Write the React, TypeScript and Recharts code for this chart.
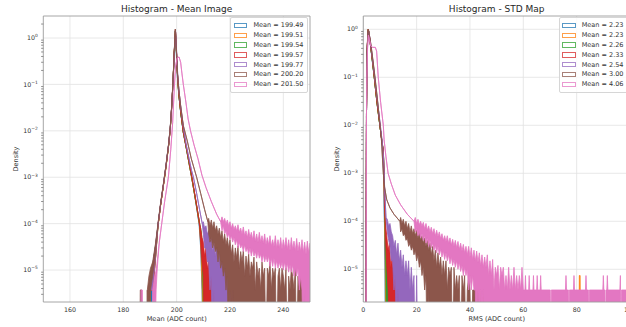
import React from "react";
import {
  Area,
  CartesianGrid,
  ComposedChart,
  Legend,
  ReferenceArea,
  XAxis,
  YAxis,
} from "recharts";

const FONT = "'DejaVu Sans', sans-serif";
const TEXT = "#333";
const COLORS = ["#1f77b4", "#ff7f0e", "#2ca02c", "#d62728", "#9467bd", "#8c564b", "#e377c2"];

// empty bins are pushed below the log axis so the clip path hides them
const EMPTY_BIN = 1e-7;

const MEAN_LABELS = [
  "Mean = 199.49",
  "Mean = 199.51",
  "Mean = 199.54",
  "Mean = 199.57",
  "Mean = 199.77",
  "Mean = 200.20",
  "Mean = 201.50",
];
const RMS_LABELS = [
  "Mean = 2.23",
  "Mean = 2.23",
  "Mean = 2.26",
  "Mean = 2.33",
  "Mean = 2.54",
  "Mean = 3.00",
  "Mean = 4.06",
];

const MEAN_TICKS = [160, 180, 200, 220, 240];
const RMS_TICKS = [0, 20, 40, 60, 80, 100];
const DECADES = [1e-5, 1e-4, 1e-3, 1e-2, 1e-1, 1];
const MINOR_STEPS = [2, 3, 4, 5, 6, 7, 8, 9];

const MEAN_X_DOMAIN = [150, 250];
const MEAN_Y_DOMAIN = [2.05e-6, 2.98];
const RMS_X_DOMAIN = [0, 100];
const RMS_Y_DOMAIN = [2.08e-6, 1.89];

// bins: [x, density] or [x, low, high] where the counts jitter between low and high
type Bin = number[];

const MEAN_BLUE: Bin[] = [
  [189.6, 0], [189.8, 3.7e-6], [190.2, 3.7e-6], [190.5, 0, 7.4e-6], [191.0, 3.7e-6, 1.2e-5],
  [192.0, 1.6e-5, 3e-5], [193.0, 9e-5], [194.0, 2.6e-4], [195.0, 6.5e-4], [196.0, 1.7e-3],
  [197.0, 5e-3], [197.6, 1.1e-2], [198.1, 3e-2], [198.6, 0.1], [199.1, 0.5], [199.5, 1.4],
  [199.9, 0.45], [200.3, 0.14], [200.8, 0.06], [201.5, 0.025], [202.5, 9e-3], [203.5, 4.5e-3],
  [204.5, 2.2e-3], [205.6, 1e-3], [206.5, 5e-4], [207.5, 2.2e-4], [208.4, 1e-4],
  [209.0, 3e-5, 6e-5], [209.5, 3.7e-6, 2.5e-5], [210.0, 0, 1.1e-5], [210.3, 0],
];

const MEAN_ORANGE: Bin[] = [
  [189.9, 0], [190.1, 3.7e-6], [190.6, 3.7e-6, 7.4e-6], [191.1, 3.7e-6, 1.1e-5],
  [192.0, 1.5e-5, 3e-5], [193.0, 8.5e-5], [194.0, 2.5e-4], [195.0, 6.3e-4], [196.0, 1.6e-3],
  [197.0, 4.8e-3], [197.6, 1.05e-2], [198.1, 2.9e-2], [198.6, 0.1], [199.1, 0.48], [199.55, 1.45],
  [199.95, 0.46], [200.35, 0.14], [200.8, 0.06], [201.5, 0.026], [202.5, 9.2e-3], [203.5, 4.6e-3],
  [204.5, 2.2e-3], [205.6, 1e-3], [206.5, 5e-4], [207.5, 2.3e-4], [208.5, 1e-4],
  [209.1, 3e-5, 6e-5], [209.6, 3.7e-6, 2.5e-5], [210.1, 0, 1.5e-5], [210.4, 0, 3.7e-6],
  [210.6, 0, 1.1e-5], [210.9, 0],
];

const MEAN_GREEN: Bin[] = [
  [189.7, 0], [190.0, 3.7e-6], [190.7, 3.7e-6, 1.1e-5], [191.2, 7.4e-6, 1.5e-5],
  [192.0, 1.7e-5, 3.2e-5], [193.0, 9e-5], [194.0, 2.6e-4], [195.0, 6.6e-4], [196.0, 1.7e-3],
  [197.0, 5e-3], [197.6, 1.1e-2], [198.1, 3e-2], [198.6, 0.1], [199.1, 0.47], [199.55, 1.42],
  [199.95, 0.47], [200.35, 0.15], [200.8, 0.062], [201.5, 0.026], [202.5, 9.4e-3], [203.5, 4.7e-3],
  [204.5, 2.3e-3], [205.6, 1.05e-3], [206.5, 5.2e-4], [207.5, 2.4e-4], [208.5, 1.1e-4],
  [209.2, 4e-5, 7e-5], [209.8, 7.4e-6, 3e-5], [210.3, 0, 1.8e-5], [210.7, 0, 7.4e-6], [211.0, 0],
];

const MEAN_RED: Bin[] = [
  [189.5, 0], [189.7, 3.7e-6], [190.3, 3.7e-6, 7.4e-6], [191.0, 3.7e-6, 1.2e-5],
  [192.0, 1.6e-5, 3e-5], [193.0, 9e-5], [194.0, 2.6e-4], [195.0, 6.5e-4], [196.0, 1.7e-3],
  [197.0, 5e-3], [197.6, 1.1e-2], [198.1, 3e-2], [198.6, 0.1], [199.1, 0.5], [199.55, 1.5],
  [199.95, 0.5], [200.35, 0.15], [200.8, 0.065], [201.5, 0.027], [202.5, 9.6e-3], [203.5, 4.8e-3],
  [204.5, 2.4e-3], [205.6, 1.1e-3], [206.5, 5.5e-4], [207.5, 2.5e-4], [208.5, 1.1e-4],
  [209.0, 4e-5, 8e-5], [209.5, 1.5e-5, 5e-5], [210.0, 7.4e-6, 4e-5], [210.5, 0, 2e-5],
  [211.0, 0, 3e-5], [211.5, 0, 1.1e-5], [212.0, 0, 1.5e-5], [212.5, 0, 3.7e-6], [213.0, 0, 1.1e-5],
  [213.5, 0, 3.7e-6], [214.0, 0, 7.4e-6], [214.5, 0], [215.5, 0], [215.8, 0, 3.7e-6], [216.2, 0],
];

const MEAN_PURPLE: Bin[] = [
  [189.4, 0], [189.6, 3.7e-6], [190.2, 3.7e-6, 7.4e-6], [191.0, 3.7e-6, 1.3e-5],
  [192.0, 1.7e-5, 3.2e-5], [193.0, 9.5e-5], [194.0, 2.7e-4], [195.0, 6.8e-4], [196.0, 1.8e-3],
  [197.0, 5.2e-3], [197.6, 1.15e-2], [198.1, 3.1e-2], [198.6, 0.1], [199.15, 0.48], [199.6, 1.35],
  [200.0, 0.5], [200.4, 0.16], [200.9, 0.07], [201.6, 0.03], [202.6, 1.1e-2], [203.6, 5e-3],
  [204.6, 2.6e-3], [205.6, 1.4e-3], [206.3, 1e-3], [207.5, 4.5e-4], [208.6, 2e-4], [209.6, 1e-4],
  [210.0, 6e-5, 1.1e-4], [210.5, 3e-5, 8e-5], [211.0, 3e-5, 9e-5], [211.5, 1.5e-5, 6e-5],
  [212.0, 1.5e-5, 7e-5], [212.5, 3.7e-6, 4e-5], [213.0, 7.4e-6, 5e-5], [213.5, 0, 2.5e-5],
  [214.0, 3.7e-6, 4e-5], [214.5, 0, 2e-5], [215.0, 0, 3.5e-5], [215.5, 0, 1.5e-5], [216.0, 0, 3e-5],
  [216.5, 0, 1.1e-5], [217.0, 0, 2.5e-5], [217.5, 0, 1.1e-5], [218.0, 0, 2e-5], [218.5, 0, 7.4e-6],
  [219.0, 0, 1.5e-5], [219.5, 0, 7.4e-6], [220.0, 0, 1.5e-5], [220.5, 0, 3.7e-6], [221.0, 0, 1.1e-5],
  [221.5, 0, 3.7e-6], [222.0, 0, 7.4e-6], [222.5, 0], [223.0, 0, 7.4e-6], [223.5, 0, 3.7e-6],
  [224.0, 0, 7.4e-6], [224.5, 0], [225.0, 0, 3.7e-6], [225.5, 0],
];

const MEAN_BROWN: Bin[] = [
  [186.3, 0], [186.4, 3.7e-6], [186.8, 3.7e-6], [186.9, 0], [188.8, 0], [189.0, 3.7e-6],
  [189.6, 0, 7.4e-6], [190.2, 3.7e-6, 1.1e-5], [191.0, 7.4e-6, 1.5e-5], [192.0, 2e-5, 3.5e-5],
  [193.0, 1e-4], [194.0, 2.8e-4], [195.0, 7e-4], [196.0, 1.8e-3], [197.0, 5.3e-3], [197.6, 1.2e-2],
  [198.1, 3.2e-2], [198.6, 0.11], [199.1, 0.52], [199.5, 1.55], [199.9, 0.55], [200.3, 0.18],
  [200.8, 0.08], [201.5, 0.035], [202.5, 1.3e-2], [204.0, 6e-3], [205.5, 2.5e-3], [207.5, 1e-3],
  [209.0, 4.5e-4], [210.5, 2e-4], [211.7, 1.1e-4], [212.0, 6e-5, 1.3e-4], [212.5, 4e-5, 9e-5],
  [213.0, 5e-5, 1.2e-4], [213.5, 3e-5, 8e-5], [214.0, 4e-5, 1.1e-4], [214.5, 2.5e-5, 7e-5],
  [215.0, 3e-5, 9e-5], [215.5, 1.5e-5, 6e-5], [216.0, 2.5e-5, 8e-5], [216.5, 1.1e-5, 5e-5],
  [217.0, 1.5e-5, 7e-5], [217.5, 7.4e-6, 4e-5], [218.0, 1.1e-5, 6e-5], [218.5, 3.7e-6, 3.5e-5],
  [219.0, 7.4e-6, 5e-5], [219.5, 0, 3e-5], [220.0, 3.7e-6, 4.5e-5], [220.5, 0, 2.2e-5],
  [221.0, 3.7e-6, 3.5e-5], [221.5, 0, 1.5e-5], [222.0, 0, 3e-5], [222.5, 0, 1.8e-5],
  [223.0, 0, 3.3e-5], [223.5, 0, 1.1e-5], [224.0, 0, 2.5e-5], [224.5, 0, 1.5e-5], [225.0, 0, 2.6e-5],
  [225.5, 0, 7.4e-6], [226.0, 0, 2e-5], [226.5, 0, 1.1e-5], [227.0, 0, 2.2e-5], [227.5, 0, 7.4e-6],
  [228.0, 0, 1.5e-5], [228.5, 0, 1.1e-5], [229.0, 0, 1.9e-5], [229.5, 0, 3.7e-6], [230.0, 0, 1.5e-5],
  [230.5, 0, 7.4e-6], [231.0, 0, 1.1e-5], [231.5, 0, 3.7e-6], [232.0, 0, 1.5e-5], [232.5, 0, 7.4e-6],
  [233.0, 0, 1.1e-5], [233.5, 0], [234.0, 0, 1.1e-5], [234.5, 0, 7.4e-6], [235.0, 0, 1.5e-5],
  [235.5, 0, 3.7e-6], [236.0, 0, 1.1e-5], [236.5, 0, 7.4e-6], [237.0, 0, 1.1e-5], [237.5, 0],
  [238.0, 0, 7.4e-6], [238.5, 0, 1.1e-5], [239.0, 0, 3.7e-6], [239.5, 0, 1.1e-5], [240.0, 0, 7.4e-6],
  [240.5, 0, 3.7e-6], [241.0, 0, 1.1e-5], [241.5, 0], [242.0, 0, 7.4e-6], [242.5, 0, 3.7e-6],
  [243.0, 0, 1.1e-5], [243.5, 0, 7.4e-6], [244.0, 0, 3.7e-6], [244.5, 0, 1.1e-5], [245.0, 0],
  [245.5, 0, 7.4e-6], [246.0, 0, 3.7e-6], [246.5, 0, 1.1e-5], [247.0, 0, 7.4e-6], [247.5, 0],
  [248.0, 0, 7.4e-6], [248.5, 0, 1.1e-5], [249.0, 0, 3.7e-6], [249.5, 0, 7.4e-6], [250.0, 0, 3.7e-6],
  [250.5, 0, 7.4e-6],
];

const MEAN_PINK: Bin[] = [
  [186.6, 0], [186.7, 3.7e-6], [187.1, 3.7e-6], [187.2, 0], [190.5, 0], [191.0, 0, 3.7e-6],
  [191.8, 0, 7.4e-6], [192.3, 3.7e-6, 1e-5], [192.7, 1e-5, 1.5e-5], [193.5, 4e-5], [194.4, 1e-4],
  [195.5, 3e-4], [196.9, 1e-3], [197.8, 4e-3], [198.5, 1.5e-2], [199.1, 0.08], [199.6, 0.25],
  [200.2, 0.37], [200.9, 0.39], [201.5, 0.3], [202.0, 0.17], [202.5, 0.1], [203.5, 0.04],
  [204.3, 0.018], [205.2, 1e-2], [206.5, 5e-3], [208.0, 2.5e-3], [209.5, 1.1e-3], [211.0, 6e-4],
  [213.0, 3e-4], [215.0, 1.6e-4], [216.5, 1.1e-4], [217.0, 7e-5, 1.4e-4], [217.5, 9e-5, 1.1e-4],
  [218.0, 6e-5, 1.3e-4], [218.5, 7e-5, 1e-4], [219.0, 5e-5, 1.2e-4], [219.5, 6e-5, 9e-5],
  [220.0, 4.5e-5, 1.1e-4], [220.5, 5.5e-5, 8e-5], [221.0, 4e-5, 1e-4], [221.5, 5e-5, 7.5e-5],
  [222.0, 3.5e-5, 9e-5], [222.5, 4.5e-5, 7e-5], [223.0, 3e-5, 9.5e-5], [223.5, 4e-5, 6.5e-5],
  [224.0, 3e-5, 8e-5], [224.5, 3.5e-5, 6e-5], [225.0, 2.5e-5, 8.5e-5], [225.5, 3.5e-5, 5.5e-5],
  [226.0, 2.5e-5, 7e-5], [226.5, 3e-5, 5e-5], [227.0, 2.2e-5, 7.5e-5], [227.5, 3e-5, 5e-5],
  [228.0, 2e-5, 6.5e-5], [228.5, 2.8e-5, 4.5e-5], [229.0, 2e-5, 7e-5], [229.5, 2.5e-5, 4.2e-5],
  [230.0, 1.8e-5, 6e-5], [230.5, 2.5e-5, 4e-5], [231.0, 1.8e-5, 6.5e-5], [231.5, 2.2e-5, 4e-5],
  [232.0, 1.5e-5, 5.5e-5], [232.5, 2.2e-5, 3.8e-5], [233.0, 1.5e-5, 6e-5], [233.5, 2e-5, 3.5e-5],
  [234.0, 1.5e-5, 5e-5], [234.5, 2e-5, 3.5e-5], [235.0, 1.2e-5, 5.5e-5], [235.5, 1.8e-5, 3.3e-5],
  [236.0, 1.2e-5, 4.5e-5], [236.5, 1.8e-5, 3.2e-5], [237.0, 1.1e-5, 5.5e-5], [237.5, 1.6e-5, 3e-5],
  [238.0, 1.1e-5, 4.5e-5], [238.5, 1.5e-5, 3e-5], [239.0, 1.1e-5, 5e-5], [239.5, 1.5e-5, 2.8e-5],
  [240.0, 1e-5, 4.5e-5], [240.5, 1.5e-5, 3e-5], [241.0, 1e-5, 5e-5], [241.5, 1.4e-5, 2.8e-5],
  [242.0, 9e-6, 4.5e-5], [242.5, 1.3e-5, 2.6e-5], [243.0, 9e-6, 5e-5], [243.5, 1.3e-5, 2.8e-5],
  [244.0, 7.4e-6, 4.2e-5], [244.5, 1.1e-5, 2.6e-5], [245.0, 7.4e-6, 4.8e-5], [245.5, 1.1e-5, 2.5e-5],
  [246.0, 3.7e-6, 4e-5], [246.5, 7.4e-6, 2.5e-5], [247.0, 3.7e-6, 4.5e-5], [247.5, 0, 2.4e-5],
  [248.0, 3.7e-6, 4e-5], [248.5, 0, 2.2e-5], [249.0, 0, 4.2e-5], [249.5, 0, 2.4e-5],
  [250.0, 0, 3.8e-5], [250.5, 0, 2.2e-5],
];

const RMS_BLUE: Bin[] = [
  [1.0, 0], [1.2, 0.02], [1.4, 0.3], [1.7, 0.8], [1.9, 0.98], [2.2, 0.75], [2.6, 0.5], [3.0, 0.33],
  [3.5, 0.19], [4.1, 0.1], [5.1, 0.03], [6.2, 1e-2], [6.9, 5e-3], [7.4, 3e-3], [7.7, 6e-4],
  [7.9, 1.2e-4], [8.1, 1.5e-5, 4e-5], [8.3, 0, 1.1e-5], [8.5, 0],
];

const RMS_ORANGE: Bin[] = [
  [1.0, 0], [1.2, 0.02], [1.4, 0.3], [1.7, 0.8], [1.9, 1.0], [2.2, 0.78], [2.6, 0.52], [3.0, 0.34],
  [3.5, 0.2], [4.1, 0.1], [5.1, 0.03], [6.2, 1e-2], [6.9, 5e-3], [7.4, 3e-3], [7.8, 6e-4],
  [8.0, 1.3e-4], [8.2, 2e-5, 5e-5], [8.5, 0, 1.5e-5], [8.8, 0, 3.7e-6], [9.0, 0], [80.8, 0],
  [81.0, 0, 7.4e-6], [81.3, 0, 7.4e-6], [81.5, 0],
];

const RMS_GREEN: Bin[] = [
  [1.0, 0], [1.2, 0.02], [1.4, 0.3], [1.7, 0.8], [1.9, 0.99], [2.2, 0.77], [2.6, 0.52], [3.0, 0.34],
  [3.5, 0.2], [4.1, 0.1], [5.1, 0.031], [6.2, 1e-2], [6.9, 5e-3], [7.5, 3e-3], [7.9, 8e-4],
  [8.1, 1.2e-4], [8.4, 2e-5, 5e-5], [8.8, 0, 1.8e-5], [9.3, 0, 1.1e-5], [9.6, 0, 3.7e-6], [9.9, 0],
];

const RMS_RED: Bin[] = [
  [1.0, 0], [1.2, 0.02], [1.4, 0.32], [1.7, 0.82], [1.9, 1.0], [2.2, 0.78], [2.6, 0.53], [3.0, 0.35],
  [3.5, 0.21], [4.1, 0.105], [5.1, 0.032], [6.2, 1.05e-2], [6.9, 5e-3], [7.5, 3e-3], [7.8, 1e-3],
  [8.0, 2e-4], [8.3, 5e-5, 9e-5], [8.8, 1.1e-5, 5e-5], [9.3, 3.7e-6, 2.5e-5], [9.8, 0, 3.5e-5],
  [10.3, 0, 1.1e-5], [10.8, 0, 2.2e-5], [11.3, 0, 7.4e-6], [11.8, 0, 1.5e-5], [12.3, 0, 3.7e-6],
  [12.8, 0, 1.1e-5], [13.3, 0, 3.7e-6], [13.8, 0, 7.4e-6], [14.3, 0], [14.8, 0, 3.7e-6], [15.3, 0],
];

const RMS_PURPLE: Bin[] = [
  [1.0, 0], [1.2, 0.02], [1.4, 0.3], [1.7, 0.78], [1.95, 0.95], [2.3, 0.75], [2.7, 0.52],
  [3.1, 0.35], [3.6, 0.21], [4.2, 0.11], [5.2, 0.035], [6.3, 1.1e-2], [7.0, 5e-3], [7.6, 2e-3],
  [8.0, 5e-4], [8.5, 1.2e-4], [9.0, 6e-5, 1.1e-4], [9.5, 4e-5, 8e-5], [10.0, 3e-5, 9e-5],
  [10.5, 1.5e-5, 6e-5], [11.0, 1.5e-5, 5e-5], [11.5, 3.7e-6, 3e-5], [12.0, 7.4e-6, 4e-5],
  [12.5, 0, 2e-5], [13.0, 3.7e-6, 3.5e-5], [13.5, 0, 1.5e-5], [14.0, 0, 2.5e-5], [14.5, 0, 1.1e-5],
  [15.0, 0, 2e-5], [15.5, 0, 7.4e-6], [16.0, 0, 1.5e-5], [16.5, 0, 7.4e-6], [17.0, 0, 1.5e-5],
  [17.5, 0, 3.7e-6], [18.0, 0, 1.1e-5], [18.5, 0, 3.7e-6], [19.0, 0, 7.4e-6], [19.5, 0],
  [20.0, 0, 7.4e-6], [20.5, 0],
];

const RMS_BROWN: Bin[] = [
  [1.0, 0], [1.2, 0.02], [1.4, 0.3], [1.65, 0.8], [1.85, 1.0], [2.3, 0.75], [2.7, 0.55],
  [3.1, 0.38], [3.6, 0.23], [4.3, 0.11], [5.3, 0.035], [6.2, 1.1e-2], [6.8, 5e-3], [7.5, 1e-3],
  [8.0, 5e-4], [8.8, 2.8e-4], [10.0, 1.9e-4], [11.5, 1.4e-4], [13.7, 1e-4], [14.0, 6e-5, 1.2e-4],
  [14.5, 7e-5, 9e-5], [15.0, 5e-5, 1.1e-4], [15.5, 5.5e-5, 8e-5], [16.0, 4e-5, 1e-4],
  [16.5, 4.5e-5, 7e-5], [17.0, 3e-5, 9e-5], [17.5, 3.5e-5, 6e-5], [18.0, 2.5e-5, 8e-5],
  [18.5, 3e-5, 5.5e-5], [19.0, 2e-5, 7e-5], [19.5, 2.5e-5, 5e-5], [20.0, 1.5e-5, 6.5e-5],
  [20.5, 2e-5, 4.5e-5], [21.0, 1.1e-5, 6e-5], [21.5, 1.5e-5, 4e-5], [22.0, 7.4e-6, 5e-5],
  [22.5, 1.1e-5, 3.5e-5], [23.0, 3.7e-6, 4.5e-5], [23.5, 7.4e-6, 3e-5], [24.0, 0, 4e-5],
  [24.5, 3.7e-6, 2.5e-5], [25.0, 0, 3.5e-5], [25.5, 0, 2e-5], [26.0, 0, 3e-5], [26.5, 0, 1.5e-5],
  [27.0, 0, 2.5e-5], [27.5, 0, 1.1e-5], [28.0, 0, 2.2e-5], [28.5, 0, 1.1e-5], [29.0, 0, 1.8e-5],
  [29.5, 0, 7.4e-6], [30.0, 0, 1.5e-5], [30.5, 0, 7.4e-6], [31.0, 0, 1.5e-5], [31.5, 0, 3.7e-6],
  [32.0, 0, 1.1e-5], [32.5, 0, 7.4e-6], [33.0, 0, 1.1e-5], [33.5, 0], [34.0, 0, 1.1e-5],
  [34.5, 0, 3.7e-6], [35.0, 0, 7.4e-6], [35.5, 0, 3.7e-6], [36.0, 0, 7.4e-6], [36.5, 0],
  [37.0, 0, 7.4e-6], [37.5, 0, 3.7e-6], [38.0, 0, 7.4e-6], [38.5, 0], [39.0, 0, 3.7e-6],
  [39.5, 0, 7.4e-6], [40.0, 0, 3.7e-6], [40.5, 0], [41.0, 0, 3.7e-6], [42.0, 0, 3.7e-6],
  [42.5, 0, 7.4e-6], [43.0, 0, 3.7e-6], [44.0, 0, 3.7e-6], [44.5, 0], [45.0, 0, 3.7e-6],
  [46.0, 0, 3.7e-6], [46.5, 0],
];

const RMS_PINK: Bin[] = [
  [1.0, 0], [1.2, 0.02], [1.35, 0.1], [1.6, 0.4], [1.9, 0.75], [2.3, 0.6], [2.8, 0.45],
  [3.5, 0.42], [4.5, 0.42], [5.0, 0.35], [5.6, 0.1], [6.5, 0.03], [7.5, 1e-2], [7.8, 5e-3],
  [8.5, 2.2e-3], [9.3, 1e-3], [10.5, 6e-4], [12.0, 3.5e-4], [14.0, 2.2e-4], [16.5, 1.4e-4],
  [19.0, 1e-4], [19.5, 6e-5, 1.2e-4], [20.0, 7e-5, 9e-5], [20.5, 5e-5, 1.1e-4], [21.0, 6e-5, 8.5e-5],
  [21.5, 4.5e-5, 1e-4], [22.0, 5.5e-5, 8e-5], [22.5, 4e-5, 9.5e-5], [23.0, 5e-5, 7e-5],
  [23.5, 3.5e-5, 9e-5], [24.0, 4.5e-5, 6.5e-5], [24.5, 3e-5, 8e-5], [25.0, 4e-5, 6e-5],
  [25.5, 2.8e-5, 7.5e-5], [26.0, 3.5e-5, 5.5e-5], [26.5, 2.5e-5, 7e-5], [27.0, 3.2e-5, 5e-5],
  [27.5, 2.2e-5, 6.5e-5], [28.0, 3e-5, 4.8e-5], [28.5, 2e-5, 6e-5], [29.0, 2.6e-5, 4.4e-5],
  [29.5, 1.8e-5, 5.5e-5], [30.0, 2.4e-5, 4e-5], [30.5, 1.6e-5, 5e-5], [31.0, 2.2e-5, 3.8e-5],
  [31.5, 1.5e-5, 5e-5], [32.0, 2e-5, 3.5e-5], [32.5, 1.3e-5, 4.5e-5], [33.0, 1.8e-5, 3.2e-5],
  [33.5, 1.2e-5, 4.2e-5], [34.0, 1.6e-5, 3e-5], [34.5, 1.1e-5, 4e-5], [35.0, 1.5e-5, 2.8e-5],
  [35.5, 1e-5, 3.8e-5], [36.0, 1.4e-5, 2.6e-5], [36.5, 9e-6, 3.5e-5], [37.0, 1.2e-5, 2.4e-5],
  [37.5, 7.4e-6, 3.3e-5], [38.0, 1.1e-5, 2.2e-5], [38.5, 7.4e-6, 3e-5], [39.0, 1e-5, 2e-5],
  [39.5, 3.7e-6, 3e-5], [40.0, 7.4e-6, 1.8e-5], [40.5, 3.7e-6, 2.8e-5], [41.0, 7.4e-6, 1.6e-5],
  [41.5, 3.7e-6, 2.5e-5], [42.0, 3.7e-6, 1.5e-5], [42.5, 0, 2.4e-5], [43.0, 3.7e-6, 1.4e-5],
  [43.5, 0, 2.2e-5], [44.0, 3.7e-6, 1.2e-5], [44.5, 0, 2e-5], [45.0, 3.7e-6, 1.1e-5],
  [45.5, 0, 1.8e-5], [46.0, 0, 1.1e-5], [46.5, 0, 2e-5], [47.0, 0, 7.4e-6], [47.5, 0, 1.5e-5],
  [48.0, 0, 7.4e-6], [48.5, 0, 1.6e-5], [49.0, 0, 3.7e-6], [49.5, 0, 1.1e-5], [50.0, 0, 7.4e-6],
  [50.5, 0, 1.2e-5], [51.0, 0, 3.7e-6], [51.5, 0, 1.1e-5], [52.0, 0, 7.4e-6], [52.5, 0, 1.1e-5],
  [53.0, 0, 3.7e-6], [53.5, 0, 7.4e-6], [54.0, 0, 3.7e-6], [54.5, 0, 1.1e-5], [55.0, 0, 3.7e-6],
  [55.5, 0, 7.4e-6], [56.0, 0, 3.7e-6], [56.5, 0, 1.1e-5], [57.0, 0, 3.7e-6], [57.5, 0, 7.4e-6],
  [58.0, 0, 3.7e-6], [58.5, 0, 7.4e-6], [59.0, 0, 3.7e-6], [59.5, 0, 1.1e-5], [60.0, 0, 3.7e-6],
  [60.6, 0, 3.7e-6], [60.8, 0, 7.4e-6], [61.0, 0, 3.7e-6], [62.0, 0, 3.7e-6], [62.2, 0, 7.4e-6],
  [62.4, 0, 3.7e-6], [63.6, 0, 3.7e-6], [63.8, 0, 7.4e-6], [64.0, 0, 3.7e-6], [65.0, 0, 3.7e-6],
  [65.2, 0, 7.4e-6], [65.4, 0, 3.7e-6], [66.3, 0, 3.7e-6], [66.5, 0, 7.4e-6], [66.7, 0, 3.7e-6],
  [70.1, 0, 3.7e-6], [70.3, 0], [70.5, 0, 3.7e-6], [75.8, 0, 3.7e-6], [76.0, 0, 7.4e-6],
  [76.2, 0, 3.7e-6], [76.9, 0, 3.7e-6], [77.1, 0], [77.3, 0, 3.7e-6], [78.8, 0, 3.7e-6],
  [79.0, 0, 7.4e-6], [79.2, 0, 3.7e-6], [83.3, 0, 3.7e-6], [83.5, 0, 7.4e-6], [83.7, 0, 3.7e-6],
  [84.4, 0, 3.7e-6], [84.6, 0], [84.8, 0, 3.7e-6], [89.8, 0, 3.7e-6], [90.0, 0, 7.4e-6],
  [90.2, 0, 3.7e-6], [90.6, 0, 3.7e-6], [90.8, 0], [91.0, 0, 3.7e-6], [91.3, 0, 3.7e-6],
  [91.5, 0, 7.4e-6], [91.7, 0, 3.7e-6], [96.2, 0, 3.7e-6], [96.4, 0, 7.4e-6], [96.6, 0],
  [96.8, 0, 3.7e-6], [101.0, 0, 3.7e-6],
];

const MEAN_SERIES = [MEAN_BLUE, MEAN_ORANGE, MEAN_GREEN, MEAN_RED, MEAN_PURPLE, MEAN_BROWN, MEAN_PINK];
const RMS_SERIES = [RMS_BLUE, RMS_ORANGE, RMS_GREEN, RMS_RED, RMS_PURPLE, RMS_BROWN, RMS_PINK];

function toRows(bins: Bin[]) {
  return bins.map(([x, lo, hi = lo]) => ({
    x,
    range: [Math.max(lo, EMPTY_BIN), Math.max(hi, EMPTY_BIN)],
  }));
}

function logTicks([lo, hi]: number[]) {
  const minors: number[] = [];
  [1e-6, ...DECADES].forEach((d) =>
    MINOR_STEPS.forEach((m) => {
      const v = d * m;
      if (v > lo && v < hi) minors.push(v);
    })
  );
  return [...DECADES, ...minors];
}

function LogTick({ x, y, payload }: any) {
  const v = payload.value;
  if (!DECADES.includes(v)) {
    return <line x1={x - 2.2} x2={x} y1={y} y2={y} stroke="#666" strokeWidth={0.7} />;
  }
  const exp = Math.round(Math.log10(v));
  return (
    <text x={x - 5.5} y={y + 2.2} textAnchor="end" fontFamily={FONT} fontSize={6.3} fill={TEXT}>
      10
      <tspan dy={-2.8} fontSize={4.4}>
        {exp === 0 ? "0" : `\u2212${-exp}`}
      </tspan>
    </text>
  );
}

function XTick({ x, y, payload }: any) {
  return (
    <text x={x} y={y + 10.3} textAnchor="middle" fontFamily={FONT} fontSize={6.3} fill={TEXT}>
      {payload.value}
    </text>
  );
}

function HistLegend({ payload }: any) {
  return (
    <div
      style={{
        background: "rgba(255,255,255,0.8)",
        border: "0.7px solid #d6d6d6",
        borderRadius: 2,
        padding: "2.6px 3.5px 2.4px 2.5px",
        fontFamily: FONT,
        fontSize: 6.5,
        color: TEXT,
        whiteSpace: "nowrap",
      }}
    >
      {(payload || []).map((p: any, i: number) => (
        <div key={i} style={{ display: "flex", alignItems: "center", height: 9.8 }}>
          <span
            style={{
              display: "inline-block",
              width: 11.5,
              height: 3.4,
              border: `0.6px solid ${p.color}`,
              opacity: 0.75,
              marginRight: 6,
            }}
          />
          <span>{p.value}</span>
        </div>
      ))}
    </div>
  );
}

function HistPanel({ series, labels, xDomain, yDomain, xTicks }: any) {
  return (
    <ComposedChart width={320} height={327} margin={{ top: 16, right: 10, bottom: 0, left: 0 }}>
      <CartesianGrid
        stroke="#e2e2e2"
        strokeWidth={0.8}
        verticalValues={xTicks}
        horizontalValues={DECADES}
      />
      <XAxis
        type="number"
        dataKey="x"
        domain={xDomain}
        ticks={xTicks}
        interval={0}
        allowDataOverflow
        height={25}
        axisLine={false}
        tickLine={false}
        tickSize={0}
        tickMargin={0}
        tick={<XTick />}
      />
      <YAxis
        type="number"
        scale="log"
        domain={yDomain}
        ticks={logTicks(yDomain)}
        interval={0}
        allowDataOverflow
        width={43.3}
        axisLine={false}
        tickLine={false}
        tickSize={0}
        tickMargin={0}
        tick={<LogTick />}
      />
      {series.map((bins: Bin[], i: number) => (
        <Area
          key={i}
          data={toRows(bins)}
          dataKey="range"
          name={labels[i]}
          type="linear"
          stroke={COLORS[i]}
          strokeWidth={0.8}
          fill={COLORS[i]}
          fillOpacity={1}
          dot={false}
          activeDot={false}
          legendType="rect"
          isAnimationActive={false}
        />
      ))}
      <ReferenceArea
        x1={xDomain[0]}
        x2={xDomain[1]}
        y1={yDomain[0]}
        y2={yDomain[1]}
        fill="none"
        stroke="#9c9c9c"
        strokeWidth={0.9}
      />
      <Legend
        layout="vertical"
        align="center"
        verticalAlign="middle"
        wrapperStyle={{ top: 17, right: 12, width: "auto" }}
        content={(props: any) => <HistLegend payload={props.payload} />}
      />
    </ComposedChart>
  );
}

export default function App() {
  const label = { fontFamily: FONT, fill: TEXT } as const;
  return (
    <div
      style={{
        position: "absolute",
        left: 0,
        top: 0,
        width: 626,
        height: 327,
        overflow: "hidden",
        background: "#fff",
      }}
    >
      <div style={{ position: "absolute", left: 0, top: 0 }}>
        <HistPanel
          series={MEAN_SERIES}
          labels={MEAN_LABELS}
          xDomain={MEAN_X_DOMAIN}
          yDomain={MEAN_Y_DOMAIN}
          xTicks={MEAN_TICKS}
        />
      </div>
      <div style={{ position: "absolute", left: 320, top: 0 }}>
        <HistPanel
          series={RMS_SERIES}
          labels={RMS_LABELS}
          xDomain={RMS_X_DOMAIN}
          yDomain={RMS_Y_DOMAIN}
          xTicks={RMS_TICKS}
        />
      </div>
      <svg
        width={626}
        height={327}
        style={{ position: "absolute", left: 0, top: 0, pointerEvents: "none" }}
      >
        <text x={176.7} y={11.5} textAnchor="middle" fontSize={9} {...label} fill="#262626">
          Histogram - Mean Image
        </text>
        <text x={496.7} y={11.5} textAnchor="middle" fontSize={9} {...label} fill="#262626">
          Histogram - STD Map
        </text>
        <text x={176.7} y={321} textAnchor="middle" fontSize={6.6} {...label}>
          Mean (ADC count)
        </text>
        <text x={496.7} y={321} textAnchor="middle" fontSize={6.6} {...label}>
          RMS (ADC count)
        </text>
        <text
          x={16.3}
          y={159}
          textAnchor="middle"
          dominantBaseline="central"
          fontSize={6.6}
          transform="rotate(-90 16.3 159)"
          {...label}
        >
          Density
        </text>
        <text
          x={336.7}
          y={159}
          textAnchor="middle"
          dominantBaseline="central"
          fontSize={6.6}
          transform="rotate(-90 336.7 159)"
          {...label}
        >
          Density
        </text>
      </svg>
    </div>
  );
}
